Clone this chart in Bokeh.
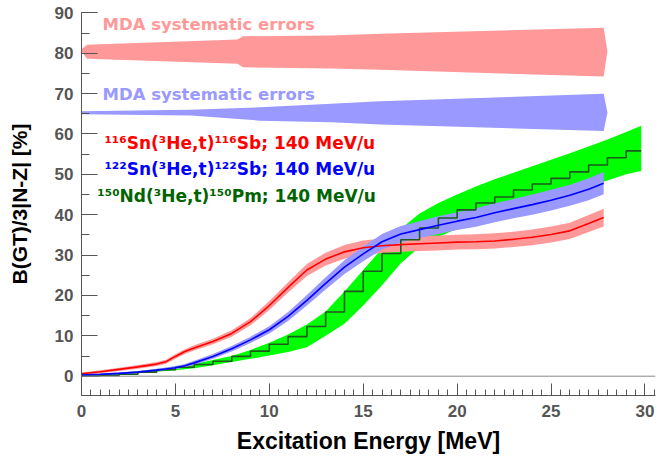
from bokeh.plotting import figure
from bokeh.models import Span, Label, SingleIntervalTicker, Range1d
from bokeh.embed import file_html
from bokeh.resources import INLINE

# ---------------- data ----------------
# excitation energy grid for the Sn curves [MeV]
e_sn = [0, 1, 2, 3, 4, 4.5, 5, 5.5, 6, 7, 8, 9, 10, 11, 12, 13, 14, 15, 16,
        17, 18, 19, 20, 21, 22, 23, 24, 25, 26, 27, 27.8]
# 116Sn(3He,t)116Sb running sum [%]
sn116 = [0.6, 1.1, 1.7, 2.3, 3.0, 3.6, 4.9, 6.1, 7.0, 8.6, 10.6, 13.5, 17.5,
         22.0, 26.3, 29.0, 30.8, 31.8, 32.3, 32.6, 32.8, 33.0, 33.2, 33.3,
         33.5, 33.9, 34.4, 35.1, 36.0, 37.8, 39.3]
sn116_err = [0.3, 0.35, 0.4, 0.45, 0.5, 0.5, 0.55, 0.6, 0.65, 0.7, 0.8, 0.9,
             1.1, 1.3, 1.5, 1.6, 1.7, 1.8, 1.8, 1.8, 1.8, 1.85, 1.85, 1.85,
             1.9, 1.9, 1.95, 2.0, 2.0, 2.1, 2.2]
# 122Sn(3He,t)122Sb running sum [%]
sn122 = [0.3, 0.45, 0.7, 1.0, 1.5, 1.8, 2.1, 2.6, 3.3, 4.9, 6.8, 9.0, 11.5,
         14.8, 18.8, 23.0, 27.0, 30.3, 33.3, 35.2, 36.3, 37.4, 38.4, 39.3,
         40.5, 41.5, 42.5, 43.6, 44.8, 46.3, 47.8]
sn122_err = [0.2, 0.2, 0.25, 0.3, 0.35, 0.35, 0.4, 0.45, 0.5, 0.6, 0.7, 0.8,
             0.9, 1.1, 1.3, 1.5, 1.7, 1.8, 1.9, 2.0, 2.1, 2.2, 2.2, 2.3, 2.35,
             2.4, 2.5, 2.55, 2.6, 2.7, 2.75]

# 150Nd(3He,t)150Pm: 1 MeV bins
nd_edges = [0, 1, 2, 3, 4, 5, 6, 7, 8, 9, 10, 11, 12, 13, 14, 15, 16, 17, 18,
            19, 20, 21, 22, 23, 24, 25, 26, 27, 28, 29, 29.8]
nd150 = [0.05, 0.2, 0.5, 1.0, 1.6, 2.2, 2.9, 3.7, 4.9, 6.2, 7.9, 9.8, 12.3,
         15.9, 21.0, 26.0, 30.4, 33.8, 36.7, 39.2, 41.2, 42.9, 44.4, 46.1,
         47.6, 49.0, 50.6, 52.3, 54.1, 55.8]
nd150_hi = [0.1, 0.35, 0.7, 1.2, 1.8, 2.4, 3.1, 4.0, 5.0, 6.5, 8.3, 10.3,
            12.8, 16.0, 21.0, 26.3, 31.6, 36.5, 40.3, 42.9, 45.0, 47.0, 48.8,
            50.4, 52.0, 53.6, 55.2, 56.9, 58.6, 60.5, 62.0]
nd150_lo = [0.0, 0.1, 0.3, 0.7, 1.1, 1.5, 2.0, 2.7, 3.5, 4.3, 5.1, 6.0, 7.2,
            10.0, 13.0, 17.5, 22.5, 28.0, 32.0, 34.5, 36.5, 38.3, 40.0, 41.3,
            42.6, 44.0, 45.5, 47.0, 48.5, 50.0, 50.8]

# MDA systematic error bands (drawn as offset bands)
mda_red_e = [0, 0.3, 8.3, 8.6, 13.3, 15.9, 27.8, 28.0]
mda_red_lo = [80.4, 78.6, 77.4, 76.5, 76.2, 75.9, 74.2, 80.4]
mda_red_hi = [81.0, 82.1, 83.4, 84.2, 84.4, 84.8, 86.3, 80.5]
mda_blue_e = [0, 5.8, 9.5, 13.3, 15.9, 27.8, 28.0]
mda_blue_lo = [64.9, 64.6, 63.3, 62.9, 62.35, 60.7, 65.2]
mda_blue_hi = [65.6, 66.0, 66.6, 67.5, 68.1, 69.95, 65.3]

x_ticks_interval = 5
y_ticks_interval = 10

# ---------------- figure ----------------
p = figure(width=657, height=459, output_backend="svg", toolbar_location=None,
           x_range=Range1d(0, 30.56), y_range=Range1d(-4.78, 90.08),
           min_border_left=81, min_border_right=2, min_border_top=12,
           min_border_bottom=64)
p.outline_line_color = None
p.xgrid.visible = False
p.ygrid.visible = False
p.background_fill_color = "white"
p.border_fill_color = "white"

# bands
p.varea(x=nd_edges, y1=nd150_lo, y2=nd150_hi, fill_color="#00ff00")
p.varea(x=e_sn, y1=[v - d for v, d in zip(sn116, sn116_err)],
        y2=[v + d for v, d in zip(sn116, sn116_err)], fill_color="#ff9999")
p.varea(x=e_sn, y1=[v - d for v, d in zip(sn122, sn122_err)],
        y2=[v + d for v, d in zip(sn122, sn122_err)], fill_color="#9999ff")
p.varea(x=mda_red_e, y1=mda_red_lo, y2=mda_red_hi, fill_color="#ff9999")
p.varea(x=mda_blue_e, y1=mda_blue_lo, y2=mda_blue_hi, fill_color="#9999ff")

# zero line
p.add_layout(Span(location=0, dimension="width", line_color="#888888",
                  line_width=1))

# histogram + lines
p.step(x=nd_edges, y=nd150 + [nd150[-1]], mode="after", line_color="#1d5a1d",
       line_width=1.6)
p.line(x=e_sn, y=sn116, line_color="#ff0000", line_width=1.6)
p.line(x=e_sn, y=sn122, line_color="#0000ff", line_width=1.6)

# texts
p.add_layout(Label(x=1.12, y=87.0, text="MDA systematic errors",
                   text_color="#ff9999", text_font="DejaVu Sans",
                   text_font_style="bold", text_font_size="16.5px",
                   text_baseline="alphabetic"))
p.add_layout(Label(x=1.12, y=69.85, text="MDA systematic errors",
                   text_color="#9999ff", text_font="DejaVu Sans",
                   text_font_style="bold", text_font_size="16.5px",
                   text_baseline="alphabetic"))
for txt, xx, yy, col in [("¹¹⁶Sn(³He,t)¹¹⁶Sb; 140 MeV/u", 1.22, 57.8, "#ff0000"),
                         ("¹²²Sn(³He,t)¹²²Sb; 140 MeV/u", 1.22, 51.2, "#0000ff"),
                         ("¹⁵⁰Nd(³He,t)¹⁵⁰Pm; 140 MeV/u", 0.84, 44.6, "#006400")]:
    p.add_layout(Label(x=xx, y=yy, text=txt, text_color=col,
                       text_align="left", text_baseline="alphabetic",
                       text_font="DejaVu Sans",
                       text_font_style="bold", text_font_size="17px"))

# axes
p.xaxis.ticker = SingleIntervalTicker(interval=x_ticks_interval, num_minor_ticks=10)
p.yaxis.ticker = SingleIntervalTicker(interval=y_ticks_interval, num_minor_ticks=2)
for ax in (p.xaxis[0], p.yaxis[0]):
    ax.axis_line_color = "#555555"
    ax.major_tick_line_color = "#555555"
    ax.minor_tick_line_color = "#555555"
    ax.major_tick_out = 0
    ax.minor_tick_out = 0
    ax.major_label_text_font = "Liberation Sans"
    ax.major_label_text_font_style = "bold"
    ax.major_label_text_font_size = "17px"
    ax.major_label_text_color = "#555555"
    ax.axis_label_text_font = "Liberation Sans"
    ax.axis_label_text_font_style = "bold"
    ax.axis_label_text_color = "black"
p.xaxis.major_tick_in = 12
p.xaxis.minor_tick_in = 6
p.yaxis.major_tick_in = 16
p.yaxis.minor_tick_in = 8
p.xaxis.major_label_standoff = 9
p.yaxis.major_label_standoff = 8
p.xaxis.axis_label = "Excitation Energy [MeV]"
p.yaxis.axis_label = "B(GT)/3|N-Z| [%]"
p.xaxis.axis_label_text_font_size = "23px"
p.yaxis.axis_label_text_font_size = "21px"
p.xaxis.axis_label_standoff = 8
p.yaxis.axis_label_standoff = 21

open("out.html", "w").write(file_html(p, INLINE))
